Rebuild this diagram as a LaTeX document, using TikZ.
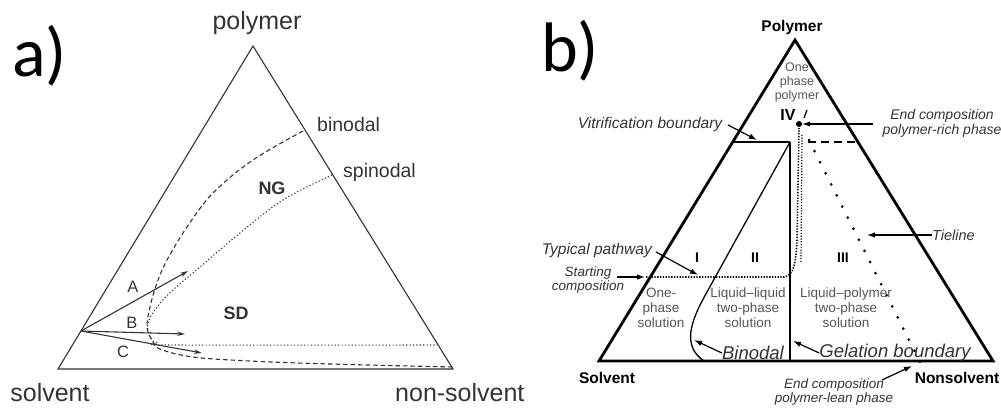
\documentclass[tikz,border=0pt]{standalone}
\usepackage{fontspec}
\setmainfont{Liberation Sans}
\newfontfamily\calib{Carlito}
\usetikzlibrary{arrows.meta}
\definecolor{ink}{HTML}{333333}
\definecolor{soft}{HTML}{555555}
\begin{document}
\begin{tikzpicture}[x=1pt,y=-1pt,
  panel/.style={font=\calib\fontsize{70}{70}\selectfont, inner sep=0, anchor=base west},
  alab/.style={font=\fontsize{25}{25}\selectfont, text=ink, inner sep=0},
  acurve/.style={font=\fontsize{19.5}{19.5}\selectfont, text=ink, inner sep=0, anchor=west},
  abold/.style={font=\bfseries\fontsize{18}{18}\selectfont, text=ink, inner sep=0},
  aletter/.style={font=\fontsize{16.5}{16.5}\selectfont, text=ink, inner sep=0},
  aline/.style={draw=ink, line width=1.1pt},
  aarrow/.style={draw=ink, line width=1.1pt, -{Stealth[length=8pt,width=4.5pt]}},
  bbold/.style={font=\bfseries\fontsize{15.5}{15.5}\selectfont, inner sep=0},
  bnote/.style={font=\itshape\fontsize{15.5}{15.5}\selectfont, text=ink, inner sep=0},
  bsmallnote/.style={font=\itshape\fontsize{13.5}{14}\selectfont, text=ink, inner sep=0, align=center},
  bregion/.style={font=\fontsize{13.5}{15}\selectfont, text=soft, inner sep=0, align=center},
  bbig/.style={font=\itshape\fontsize{18.5}{18.5}\selectfont, text=ink, inner sep=0},
  barrow/.style={draw=black, line width=1.2pt, -{Latex[length=8pt,width=5.5pt]}},
]
\useasboundingbox (0,0) rectangle (1001,409);

% ---------------- panel a ----------------
\node[panel] (la) at (12,77) {a)};
\coordinate (aT) at (253,46);
\coordinate (aL) at (58,369);
\coordinate (aR) at (453,369);
\coordinate (aS) at (81,331);
\draw[aline, line join=miter] (aT) -- (aL) -- (aR) -- cycle;

\node[alab] (apol) at (257,23) {polymer};
\node[alab] (asol) at (50,393) {solvent};
\node[alab, anchor=west] (anon) at (395,393) {non-solvent};

% binodal (dashed)
\draw[ink, line width=1.1pt, dash pattern=on 4.5pt off 3pt]
  plot[smooth, tension=0.6] coordinates {(303,131) (253,160) (213,193) (187,227) (167,260) (157,283) (150,307) (147,327) (152,340) (160,349) (193,357) (250,361) (330,364) (453,367)};
% spinodal (dotted)
\draw[ink, line width=1.1pt, dash pattern=on 1.2pt off 2.2pt]
  plot[smooth, tension=0.6] coordinates {(332,175) (283,200) (240,233) (200,267) (173,290) (157,307) (148,323) (150,337) (157,343) (175,345) (437,345)};

\node[acurve] (abin) at (317,125) {binodal};
\node[acurve] (aspi) at (343,172) {spinodal};
\node[abold] (ang) at (272,188) {NG};
\node[abold] (asd) at (236,313) {SD};

\coordinate (aA) at (188,271);
\coordinate (aB) at (185,334);
\coordinate (aC) at (202,353);
\draw[aarrow] (aS) -- (aA);
\draw[aarrow] (aS) -- (aB);
\draw[aarrow] (aS) -- (aC);
\node[aletter] (lA) at (133,287) {A};
\node[aletter] (lB) at (132,323) {B};
\node[aletter] (lC) at (123,352) {C};

% ---------------- panel b ----------------
\node[panel] (lb) at (541,72) {b)};
\coordinate (bT) at (795,40);
\coordinate (bL) at (599,361);
\coordinate (bR) at (993,361);

% vitrification boundary
\coordinate (vL) at (733,142);
\coordinate (vM) at (790,142);
\coordinate (vD) at (808,142);
\coordinate (vR) at (859,142);
\draw[black, line width=1.5pt] (vL) -- (vM);
\draw[black, line width=1.5pt, dash pattern=on 8pt off 5pt] (vD) -- (vR);
% gelation boundary
\coordinate (gB) at (790,361);
\draw[black, line width=1.5pt] (vM) -- (gB);
% binodal
\coordinate (bn1) at (707,292);
\coordinate (bn2) at (704,361);
\draw[black, line width=1.3pt] (vM) -- (bn1) .. controls (690,322) and (682,346) .. (bn2);

% pathway (dotted)
\coordinate (p0) at (646,277);
\coordinate (p1) at (784,277);
\coordinate (p2) at (797,240);
\coordinate (pE) at (799,128);
\draw[black, line width=1.6pt, dash pattern=on 1.3pt off 1.5pt]
  (p0) -- (p1) .. controls (794,276) and (796,262) .. (p2) -- (pE);
\draw[black, line width=1.2pt, dash pattern=on 1.2pt off 1.6pt]
  (801,262) -- (802,135);

% end composition polymer-rich point
\node[circle, fill=black, inner sep=0, minimum size=6pt] (dot) at (799,124) {};

% tieline
\coordinate (t0) at (809,140);
\coordinate (t1) at (920,362);
\draw[black, line width=3pt, line cap=round, dash pattern=on 0pt off 12.4pt] (t0) -- (t1);

% triangle
\draw[black, line width=2.8pt] (bT) -- (bL) -- (bR) -- cycle;

% labels
\node[bbold] (bpol) at (792,27) {Polymer};
\node[bbold] (bsol) at (607,378) {Solvent};
\node[bbold] (bnon) at (957,378) {Nonsolvent};
\node[bregion, font=\fontsize{12.5}{14}\selectfont] (one) at (797,82) {One\\phase\\polymer};
\node[font=\bfseries\fontsize{16}{16}\selectfont, inner sep=0] (iv) at (788,115) {IV};
\draw[black, line width=1.2pt] (807,110) -- (804,118);

\node[font=\bfseries\fontsize{14}{14}\selectfont, inner sep=0] (r1) at (697,258) {I};
\node[font=\bfseries\fontsize{14}{14}\selectfont, inner sep=0] (r2) at (755,258) {II};
\node[font=\bfseries\fontsize{14}{14}\selectfont, inner sep=0] (r3) at (843,258) {III};

\node[bregion] (reg1) at (661,308) {One-\\phase\\solution};
\node[bregion] (reg2) at (748,308) {Liquid–liquid\\two-phase\\solution};
\node[bregion] (reg3) at (846,308) {Liquid–polymer\\two-phase\\solution};

\node[bnote] (vit) at (650,124) {Vitrification boundary};
\draw[barrow] (728,125) -- (757,140);

\node[bnote, font=\itshape\fontsize{14}{15}\selectfont, align=center] (erich) at (942,123) {End composition\\polymer-rich phase};
\draw[barrow] (873,124) -- (dot);

\node[bnote, font=\itshape\fontsize{14.5}{14.5}\selectfont, anchor=west] (tie) at (932,235) {Tieline};
\draw[barrow] (tie.west) -- (867,235);

\node[bnote, anchor=east] (typ) at (652,250) {Typical pathway};
\draw[barrow] (656,252) -- (698,275);

\node[bsmallnote] (start) at (588,280) {Starting\\composition};
\draw[barrow] (617,277) -- (645,277);

\node[bbig] (bbin) at (753,353) {Binodal};
\draw[barrow] (bbin.west) -- (694,340);

\node[bbig] (gel) at (895,353) {Gelation boundary};
\draw[barrow] (gel.west) -- (793,341);

\node[bsmallnote] (elean) at (834,392) {End composition\\polymer-lean phase};
\draw[barrow] (882,380) -- (912,366);
\end{tikzpicture}
\end{document}
